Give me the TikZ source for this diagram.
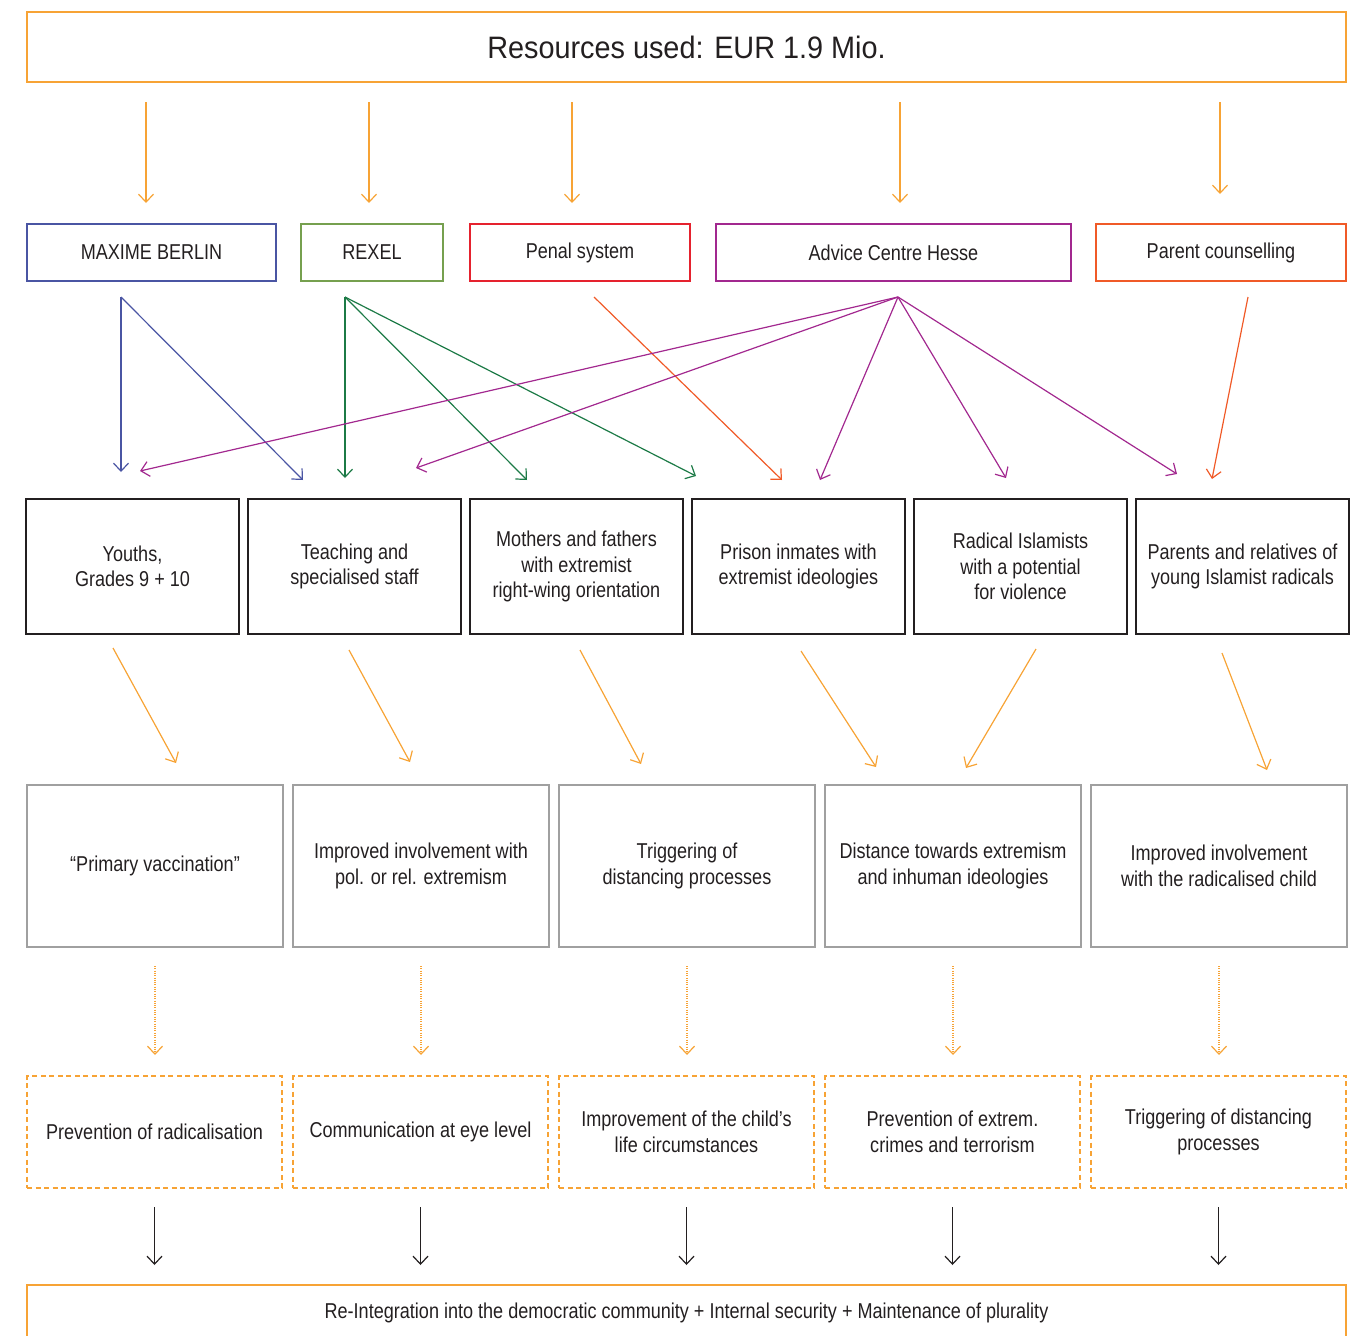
\documentclass[tikz,border=0pt]{standalone}
\usepackage{fontspec}
\setmainfont{Liberation Sans}[FakeStretch=0.84]
\newfontfamily\titlefont{Liberation Sans}[FakeStretch=0.93]
\usepackage{tikz}
\usetikzlibrary{arrows.meta, calc, positioning}
\usepackage{xcolor}
\definecolor{Amber}{HTML}{F7A335}
\definecolor{Navy}{HTML}{4A55A3}
\definecolor{Moss}{HTML}{76A04F}
\definecolor{Pine}{HTML}{1C7A46}
\definecolor{Scarlet}{HTML}{E5222E}
\definecolor{Plum}{HTML}{A2288F}
\definecolor{Tangerine}{HTML}{F05A28}
\definecolor{Ash}{HTML}{A0A0A0}
\definecolor{Ink}{HTML}{231F20}
\newcommand{\bodysize}{\fontsize{21.5}{25.5}\selectfont}
\tikzset{%
  title_block/.style={%
    rectangle,%
    draw=Amber,%
    line width=1.5pt,%
    outer sep=0pt,%
    minimum width=1319pt,%
    minimum height=70pt,%
    text=Ink,%
    font={\titlefont\fontsize{31}{36}\selectfont},%
  },
  program_block/.style={%
    rectangle,%
    line width=1.4pt,%
    outer sep=0pt,%
    minimum height=57pt,%
    text=Ink,%
    font={\bodysize},%
    align=center%
  },
  target_block/.style={%
    rectangle,%
    draw=Ink,%
    line width=1.4pt,%
    outer sep=0pt,%
    minimum width=213pt,%
    minimum height=135pt,%
    text=Ink,%
    font={\bodysize},%
    align=center%
  },
  effect_block/.style={%
    rectangle,%
    draw=Ash,%
    line width=1.5pt,%
    outer sep=0pt,%
    minimum width=256pt,%
    minimum height=162pt,%
    text=Ink,%
    font={\bodysize},%
    align=center%
  },
  outcome_block/.style={%
    rectangle,%
    draw=Amber,%
    line width=1.4pt,%
    dash pattern=on 5pt off 3.5pt,%
    outer sep=0pt,%
    minimum width=255pt,%
    minimum height=112pt,%
    text=Ink,%
    font={\bodysize},%
    align=center%
  },
  goal_block/.style={%
    rectangle,%
    draw=Amber,%
    line width=1.5pt,%
    outer sep=0pt,%
    minimum width=1319pt,%
    minimum height=56pt,%
    text=Ink,%
    font={\bodysize},%
  },
  link_path/.style={%
    line width=1.2pt,%
    line join=round,%
  },
  feed_path/.style={%
    link_path,%
    color=Amber,%
    shorten <=20pt,%
    shorten >=21pt,%
  },
  dotted_path/.style={%
    link_path,%
    color=Amber,%
    dash pattern=on 1pt off 1.3pt,%
    shorten <=19pt,%
    shorten >=21pt,%
  },
  goal_path/.style={%
    link_path,%
    color=Ink,%
    shorten <=19pt,%
    shorten >=20pt,%
  },
  arrow/.style={-{Straight Barb[length=8pt, width=15pt]}},
}

\begin{document}
\begin{tikzpicture}[x=1pt, y=-1pt]
    \useasboundingbox (0, 0) rectangle (1366, 1336);

    % resources and programmes
    \node[title_block] (Resources) at (686.5, 47) {Resources used: EUR 1.9 Mio.};
    \node[program_block, draw=Navy, minimum width=249pt] (Maxime) at (151.5, 252.5) {MAXIME BERLIN};
    \node[program_block, draw=Moss, minimum width=142pt] (Rexel) at (372, 252.5) {REXEL};
    \node[program_block, draw=Scarlet, minimum width=220pt] (Penal) at (580, 252.5) {Penal system};
    \node[program_block, draw=Plum, minimum width=355pt] (Advice) at (893.5, 252.5) {Advice Centre Hesse};
    \node[program_block, draw=Tangerine, minimum width=250pt] (Parents) at (1221, 252.5) {Parent counselling};

    % target groups
    \node[target_block] (Youths) at (132.5, 566.5) {Youths,\\Grades 9 + 10};
    \node[target_block, right = 9pt of Youths] (Teachers) {Teaching and\\specialised staff};
    \node[target_block, right = 9pt of Teachers] (Mothers) {Mothers and fathers\\with extremist\\right-wing orientation};
    \node[target_block, right = 9pt of Mothers] (Prison) {Prison inmates with\\extremist ideologies};
    \node[target_block, right = 9pt of Prison] (Radicals) {Radical Islamists\\with a potential\\for violence};
    \node[target_block, right = 9pt of Radicals] (Relatives) {Parents and relatives of\\young Islamist radicals};

    % effects
    \node[effect_block] (Vaccination) at (155, 866) {“Primary vaccination”};
    \node[effect_block, right = 10pt of Vaccination] (Involvement) {Improved involvement with\\pol. or rel. extremism};
    \node[effect_block, right = 10pt of Involvement] (Triggering) {Triggering of\\distancing processes};
    \node[effect_block, right = 10pt of Triggering] (Distance) {Distance towards extremism\\and inhuman ideologies};
    \node[effect_block, right = 10pt of Distance] (Child) {Improved involvement\\with the radicalised child};

    % outcomes
    \node[outcome_block] (PrevRad) at (154.5, 1132) {Prevention of radicalisation};
    \node[outcome_block, right = 11pt of PrevRad] (EyeLevel) {Communication at eye level};
    \node[outcome_block, right = 11pt of EyeLevel] (LifeCirc) {Improvement of the child’s\\life circumstances};
    \node[outcome_block, right = 11pt of LifeCirc] (PrevCrime) {Prevention of extrem.\\crimes and terrorism};
    \node[outcome_block, right = 11pt of PrevCrime] (Distancing) {Triggering of distancing\\processes};

    \node[goal_block] (Goal) at (686.5, 1313) {Re-Integration into the democratic community + Internal security + Maintenance of plurality};

    % resources to programmes
    \draw[feed_path, arrow]
      ($(Resources.south -| Maxime.north)+(-5.5, 0)$)
      --
      ($(Maxime.north)+(-5.5, 0)$);
    \draw[feed_path, arrow]
      ($(Resources.south -| Rexel.north)+(-3, 0)$)
      --
      ($(Rexel.north)+(-3, 0)$);
    \draw[feed_path, arrow]
      ($(Resources.south -| Penal.north)+(-8, 0)$)
      --
      ($(Penal.north)+(-8, 0)$);
    \draw[feed_path, arrow]
      ($(Resources.south -| Advice.north)+(6.5, 0)$)
      --
      ($(Advice.north)+(6.5, 0)$);
    \draw[feed_path, arrow, shorten >=30pt]
      ($(Resources.south -| Parents.north)+(-1, 0)$)
      --
      ($(Parents.north)+(-1, 0)$);

    % programmes to target groups
    \coordinate (MaximeOut) at ($(Maxime.south)+(-30.5, 16)$);
    \coordinate (RexelOut) at ($(Rexel.south)+(-27, 16)$);
    \coordinate (PenalOut) at ($(Penal.south)+(14, 16)$);
    \coordinate (AdviceOut) at ($(Advice.south)+(4.5, 16)$);
    \coordinate (ParentsOut) at ($(Parents.south)+(27, 16)$);

    \draw[link_path, arrow, color=Navy]
      (MaximeOut)
      --
      ($(Youths.north)+(-11.5, -27)$);
    \draw[link_path, arrow, color=Navy]
      (MaximeOut)
      --
      ($(Teachers.north)+(-51.5, -19)$);
    \draw[link_path, arrow, color=Pine]
      (RexelOut)
      --
      ($(Teachers.north)+(-9.5, -21)$);
    \draw[link_path, arrow, color=Pine]
      (RexelOut)
      --
      ($(Mothers.north)+(-49.5, -19)$);
    \draw[link_path, arrow, color=Pine]
      (RexelOut)
      --
      ($(Prison.north)+(-102.5, -23)$);
    \draw[link_path, arrow, color=Tangerine]
      (PenalOut)
      --
      ($(Prison.north)+(-16.5, -19)$);
    \draw[link_path, arrow, color=Plum]
      (AdviceOut)
      --
      ($(Youths.north)+(7.5, -28)$);
    \draw[link_path, arrow, color=Plum]
      (AdviceOut)
      --
      ($(Teachers.north)+(61.5, -31)$);
    \draw[link_path, arrow, color=Plum]
      (AdviceOut)
      --
      ($(Prison.north)+(21.5, -19)$);
    \draw[link_path, arrow, color=Plum]
      (AdviceOut)
      --
      ($(Radicals.north)+(-14.5, -21)$);
    \draw[link_path, arrow, color=Plum]
      (AdviceOut)
      --
      ($(Relatives.north)+(-65.5, -25)$);
    \draw[link_path, arrow, color=Tangerine]
      (ParentsOut)
      --
      ($(Relatives.north)+(-30.5, -20)$);

    % target groups to effects
    \draw[link_path, arrow, color=Amber]
      ($(Youths.south)+(-19.5, 14)$)
      --
      ($(Vaccination.north)+(21, -22)$);
    \draw[link_path, arrow, color=Amber]
      ($(Teachers.south)+(-5.5, 16)$)
      --
      ($(Involvement.north)+(-11, -23)$);
    \draw[link_path, arrow, color=Amber]
      ($(Mothers.south)+(3.5, 16)$)
      --
      ($(Triggering.north)+(-46, -21)$);
    \draw[link_path, arrow, color=Amber]
      ($(Prison.south)+(2.5, 17)$)
      --
      ($(Distance.north)+(-77, -18)$);
    \draw[link_path, arrow, color=Amber]
      ($(Radicals.south)+(15.5, 15)$)
      --
      ($(Distance.north)+(13, -17)$);
    \draw[link_path, arrow, color=Amber]
      ($(Relatives.south)+(-20.5, 19)$)
      --
      ($(Child.north)+(48, -15)$);

    % effects to outcomes
    \draw[dotted_path, arrow] (Vaccination.south) -- (Vaccination.south |- PrevRad.north);
    \draw[dotted_path, arrow] (Involvement.south) -- (Involvement.south |- EyeLevel.north);
    \draw[dotted_path, arrow] (Triggering.south) -- (Triggering.south |- LifeCirc.north);
    \draw[dotted_path, arrow] (Distance.south) -- (Distance.south |- PrevCrime.north);
    \draw[dotted_path, arrow] (Child.south) -- (Child.south |- Distancing.north);

    % outcomes to goal
    \draw[goal_path, arrow] (PrevRad.south) -- (PrevRad.south |- Goal.north);
    \draw[goal_path, arrow] (EyeLevel.south) -- (EyeLevel.south |- Goal.north);
    \draw[goal_path, arrow] (LifeCirc.south) -- (LifeCirc.south |- Goal.north);
    \draw[goal_path, arrow] (PrevCrime.south) -- (PrevCrime.south |- Goal.north);
    \draw[goal_path, arrow] (Distancing.south) -- (Distancing.south |- Goal.north);

\end{tikzpicture}
\end{document}
